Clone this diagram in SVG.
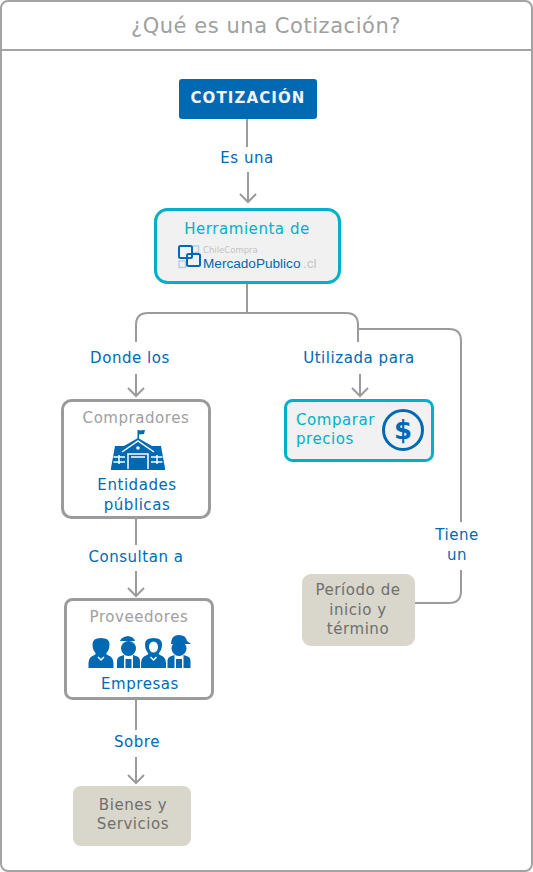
<svg xmlns="http://www.w3.org/2000/svg" width="533" height="872" viewBox="0 0 533 872">
<defs>
<style>
text{font-family:"DejaVu Sans",Verdana,sans-serif;font-size:15px;text-anchor:middle;letter-spacing:.55px}
.c{fill:none;stroke:#9b9b9b;stroke-width:2}
.l{fill:#0069b4}
.g{fill:#a0a0a0}
.t{fill:#00b0ca}
.d{fill:#6f6f6f}
.box{fill:#fff;stroke:#9b9b9b;stroke-width:3}
.cy{fill:#f1f1f1;stroke:#00b0ca;stroke-width:3}
.tan{fill:#d9d6cb}
.i{fill:#0069b4}
.w{fill:none;stroke:#fff;stroke-width:1.500}
</style>
<path id="head" d="M-8-8 0 0 8-8" fill="none" stroke="#9b9b9b" stroke-width="2"/>
<g id="woman"><path d="M0 30v-5q0-6 6-8 2-1 1-2-3-3-3-9 0-6 8.500-6T21 6q0 6-3 9-1 1 1 2 6 2 6 8v5z" fill="#0069b4"/><path d="M9.500 19 12.500 22 15.500 19" class="w"/></g>
<g id="worker"><circle cx="11.500" cy="10.500" r="7.500" fill="#0069b4"/><path d="M0 30V23q0-4 4-5l3-1v13zM23 30V23q0-4-4-5l-3-1v13zM8.500 21h6v9h-6z" fill="#0069b4"/></g>
</defs>
<rect x="1" y="1" width="531" height="870" rx="7" fill="#fff" stroke="#a3a3a3" stroke-width="2"/>
<path d="M1 50H532" stroke="#a3a3a3" stroke-width="2" fill="none"/>
<text x="266" y="33" class="g" style="font-size:21px">¿Qué es una Cotización?</text>
<g id="connectors">
<path class="c" d="M247 119V147M248 172V202"/>
<use href="#head" x="248" y="202"/>
<path class="c" d="M247 284V313M136 342V325Q136 313 148 313H346Q358 313 358 325V342"/>
<path class="c" d="M136 374V396M360 374V396"/>
<use href="#head" x="136" y="396"/>
<use href="#head" x="360" y="396"/>
<path class="c" d="M358 329H449Q461 329 461 341V522M461 570V591Q461 603 449 603H415"/>
<path class="c" d="M136 518V545M136 571V596"/>
<use href="#head" x="136" y="596"/>
<path class="c" d="M136 700V730M136 757V783"/>
<use href="#head" x="136" y="783"/>
</g>
<g id="cotizacion"><rect x="179" y="79" width="138" height="40" rx="3" fill="#0069b4"/><text x="248" y="103" style="font-weight:700;fill:#f4f4f4;letter-spacing:1.1px">COTIZACIÓN</text></g>
<g id="es-una"><text x="247" y="163" class="l">Es una</text></g>
<g id="herramienta"><rect x="155.500" y="209.500" width="184" height="73" rx="12" class="cy"/><text x="247" y="234" class="t">Herramienta de</text>
<g fill="none" stroke="#b5cfe6" stroke-width="1.500"><rect x="192" y="246" width="6.500" height="6.500"/><rect x="179" y="261" width="6.500" height="6.500"/></g>
<g fill="none" stroke="#0069b4" stroke-width="2"><rect x="179" y="246" width="13" height="12" rx="1.500"/><rect x="187" y="254" width="13" height="12" rx="1.500"/></g>
<text x="203" y="253" style="font-size:8.500px;text-anchor:start;fill:#c4c4c4;letter-spacing:0">ChileCompra</text>
<text x="203" y="268" style="font-family:'Liberation Sans',sans-serif;font-size:13.600px;text-anchor:start;fill:#0069b4;letter-spacing:0">MercadoPublico</text>
<text x="303" y="268" style="font-family:'Liberation Sans',sans-serif;font-size:13.600px;text-anchor:start;fill:#c4c4c4;letter-spacing:0">.cl</text></g>
<g id="donde-los"><text x="130" y="363" class="l">Donde los</text></g>
<g id="utilizada-para"><text x="359" y="363" class="l">Utilizada para</text></g>
<g id="compradores"><rect x="62.500" y="400.500" width="147" height="117" rx="9" class="box"/><text x="136" y="423" class="g">Compradores</text>
<g class="i"><path d="M137.500 430h1.500v9h-1.500z"/><path d="M139 430.500l6-.5-1 4-5 .5z"/>
<path d="M138 438 124 446H115L111 468V470H165V468L161 446H152z"/></g>
<path class="w" d="M122 452 138 441 154 452"/><path class="w" d="M128 469V454H148V469M131 457H145"/>
<circle cx="138" cy="448" r="1.800" fill="#fff"/>
<path class="w" d="M113.500 457H125M113.500 462H125M151 457H162.500M151 462H162.500M119 455V464M157 455V464"/>
<text x="137" y="490" class="l">Entidades</text><text x="137" y="510" class="l">públicas</text></g>
<g id="comparar"><rect x="285.500" y="400.500" width="147" height="60" rx="7" class="cy"/><text x="296" y="425" class="t" style="text-anchor:start">Comparar</text><text x="296" y="444" class="t" style="text-anchor:start">precios</text>
<circle cx="403" cy="430" r="19.500" fill="none" stroke="#0069b4" stroke-width="3"/><text x="403" y="439" style="font-size:26px;font-weight:700;fill:#0069b4;letter-spacing:0">$</text></g>
<g id="consultan"><text x="136" y="562" class="l">Consultan a</text></g>
<g id="proveedores"><rect x="65.500" y="599.500" width="147" height="99" rx="7" class="box"/><text x="139" y="622" class="g">Proveedores</text>
<use href="#woman" x="88.500" y="638"/>
<use href="#worker" x="117" y="638"/><path d="M120 641q1-4 8-5 6 1 7 5z" class="i"/>
<use href="#woman" x="141" y="638"/><ellipse cx="153.500" cy="647" rx="4.500" ry="5.500" fill="#fff"/>
<use href="#worker" x="167.500" y="638"/><path d="M171 644q0-9 8-9 7 0 8 6l4 3z" class="i"/>
<text x="140" y="689" class="l">Empresas</text></g>
<g id="sobre"><text x="137" y="747" class="l">Sobre</text></g>
<g id="bienes"><rect x="73" y="786" width="118" height="60" rx="8" class="tan"/><text x="133" y="810" class="d">Bienes y</text><text x="133" y="829" class="d">Servicios</text></g>
<g id="tiene-un"><text x="457" y="540" class="l">Tiene</text><text x="457" y="560" class="l">un</text></g>
<g id="periodo"><rect x="302" y="574" width="113" height="72" rx="9" class="tan"/><text x="358" y="595" class="d">Período de</text><text x="358" y="615" class="d">inicio y</text><text x="358" y="634" class="d">término</text></g>
</svg>
